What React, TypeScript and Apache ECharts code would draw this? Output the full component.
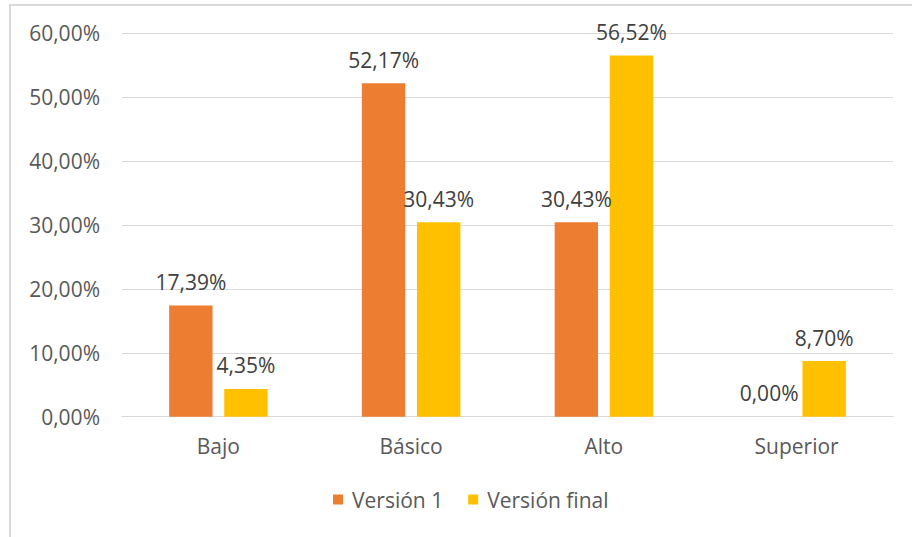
import React, { useEffect, useRef } from "react";
import * as echarts from "echarts";

const categories = ["Bajo", "Básico", "Alto", "Superior"];
const seriesNames = ["Versión 1", "Versión final"];
const version1 = [17.39, 52.17, 30.43, 0.0];
const versionFinal = [4.35, 30.43, 56.52, 8.7];
const yTicks = { min: 0, max: 60, interval: 10 };
const colors = ["#ED7D31", "#FFC000"];

const FONT = "'Open Sans', 'Noto Sans', sans-serif";
const FS = 21;
const fmt = (v: number) => v.toFixed(2).replace(".", ",") + "%";

export default function App() {
  const ref = useRef<HTMLDivElement>(null);
  useEffect(() => {
    if (!ref.current) return;
    const chart = echarts.init(ref.current, null, { renderer: "svg" });
    const labelStyle = {
      show: true,
      position: "top" as const,
      distance: 13,
      color: "#404040",
      fontFamily: FONT,
      fontSize: FS,
      formatter: (p: any) => fmt(p.value),
    };
    chart.setOption({
      animation: false,
      backgroundColor: "#ffffff",
      textStyle: { fontFamily: FONT },
      graphic: [
        {
          type: "rect",
          shape: { x: 10, y: 5, width: 1000, height: 1000 },
          style: { fill: "none", stroke: "#d9d9d9", lineWidth: 2 },
          silent: true,
        },
      ],
      grid: { left: 122, right: 19, top: 33.3, bottom: 120.3, containLabel: false },
      legend: {
        data: seriesNames,
        bottom: 22,
        left: 328,
        itemWidth: 10,
        itemHeight: 10,
        itemGap: 25,
        icon: "rect",
        textStyle: { color: "#595959", fontSize: FS, fontFamily: FONT, padding: [0, 0, 0, 4] },
      },
      xAxis: {
        type: "category",
        data: categories,
        axisLine: { show: true, lineStyle: { color: "#d9d9d9", width: 1 } },
        axisTick: { show: false },
        axisLabel: { color: "#595959", fontSize: FS, fontFamily: FONT, margin: 19 },
      },
      yAxis: {
        type: "value",
        min: yTicks.min,
        max: yTicks.max,
        interval: yTicks.interval,
        axisLine: { show: false },
        axisTick: { show: false },
        splitLine: { lineStyle: { color: "#d9d9d9", width: 1 } },
        axisLabel: {
          color: "#595959",
          fontSize: FS,
          fontFamily: FONT,
          margin: 22,
          formatter: (v: number) => fmt(v),
        },
      },
      series: [
        {
          name: seriesNames[0],
          type: "bar",
          data: version1,
          barWidth: "22.5%",
          barGap: "27%",
          itemStyle: { color: colors[0] },
          label: labelStyle,
        },
        {
          name: seriesNames[1],
          type: "bar",
          data: versionFinal,
          barWidth: "22.5%",
          barGap: "27%",
          itemStyle: { color: colors[1] },
          label: labelStyle,
        },
      ],
    });
    return () => chart.dispose();
  }, []);
  return (
    <div
      ref={ref}
      style={{ position: "absolute", left: 0, top: 0, width: 912, height: 537 }}
    />
  );
}
